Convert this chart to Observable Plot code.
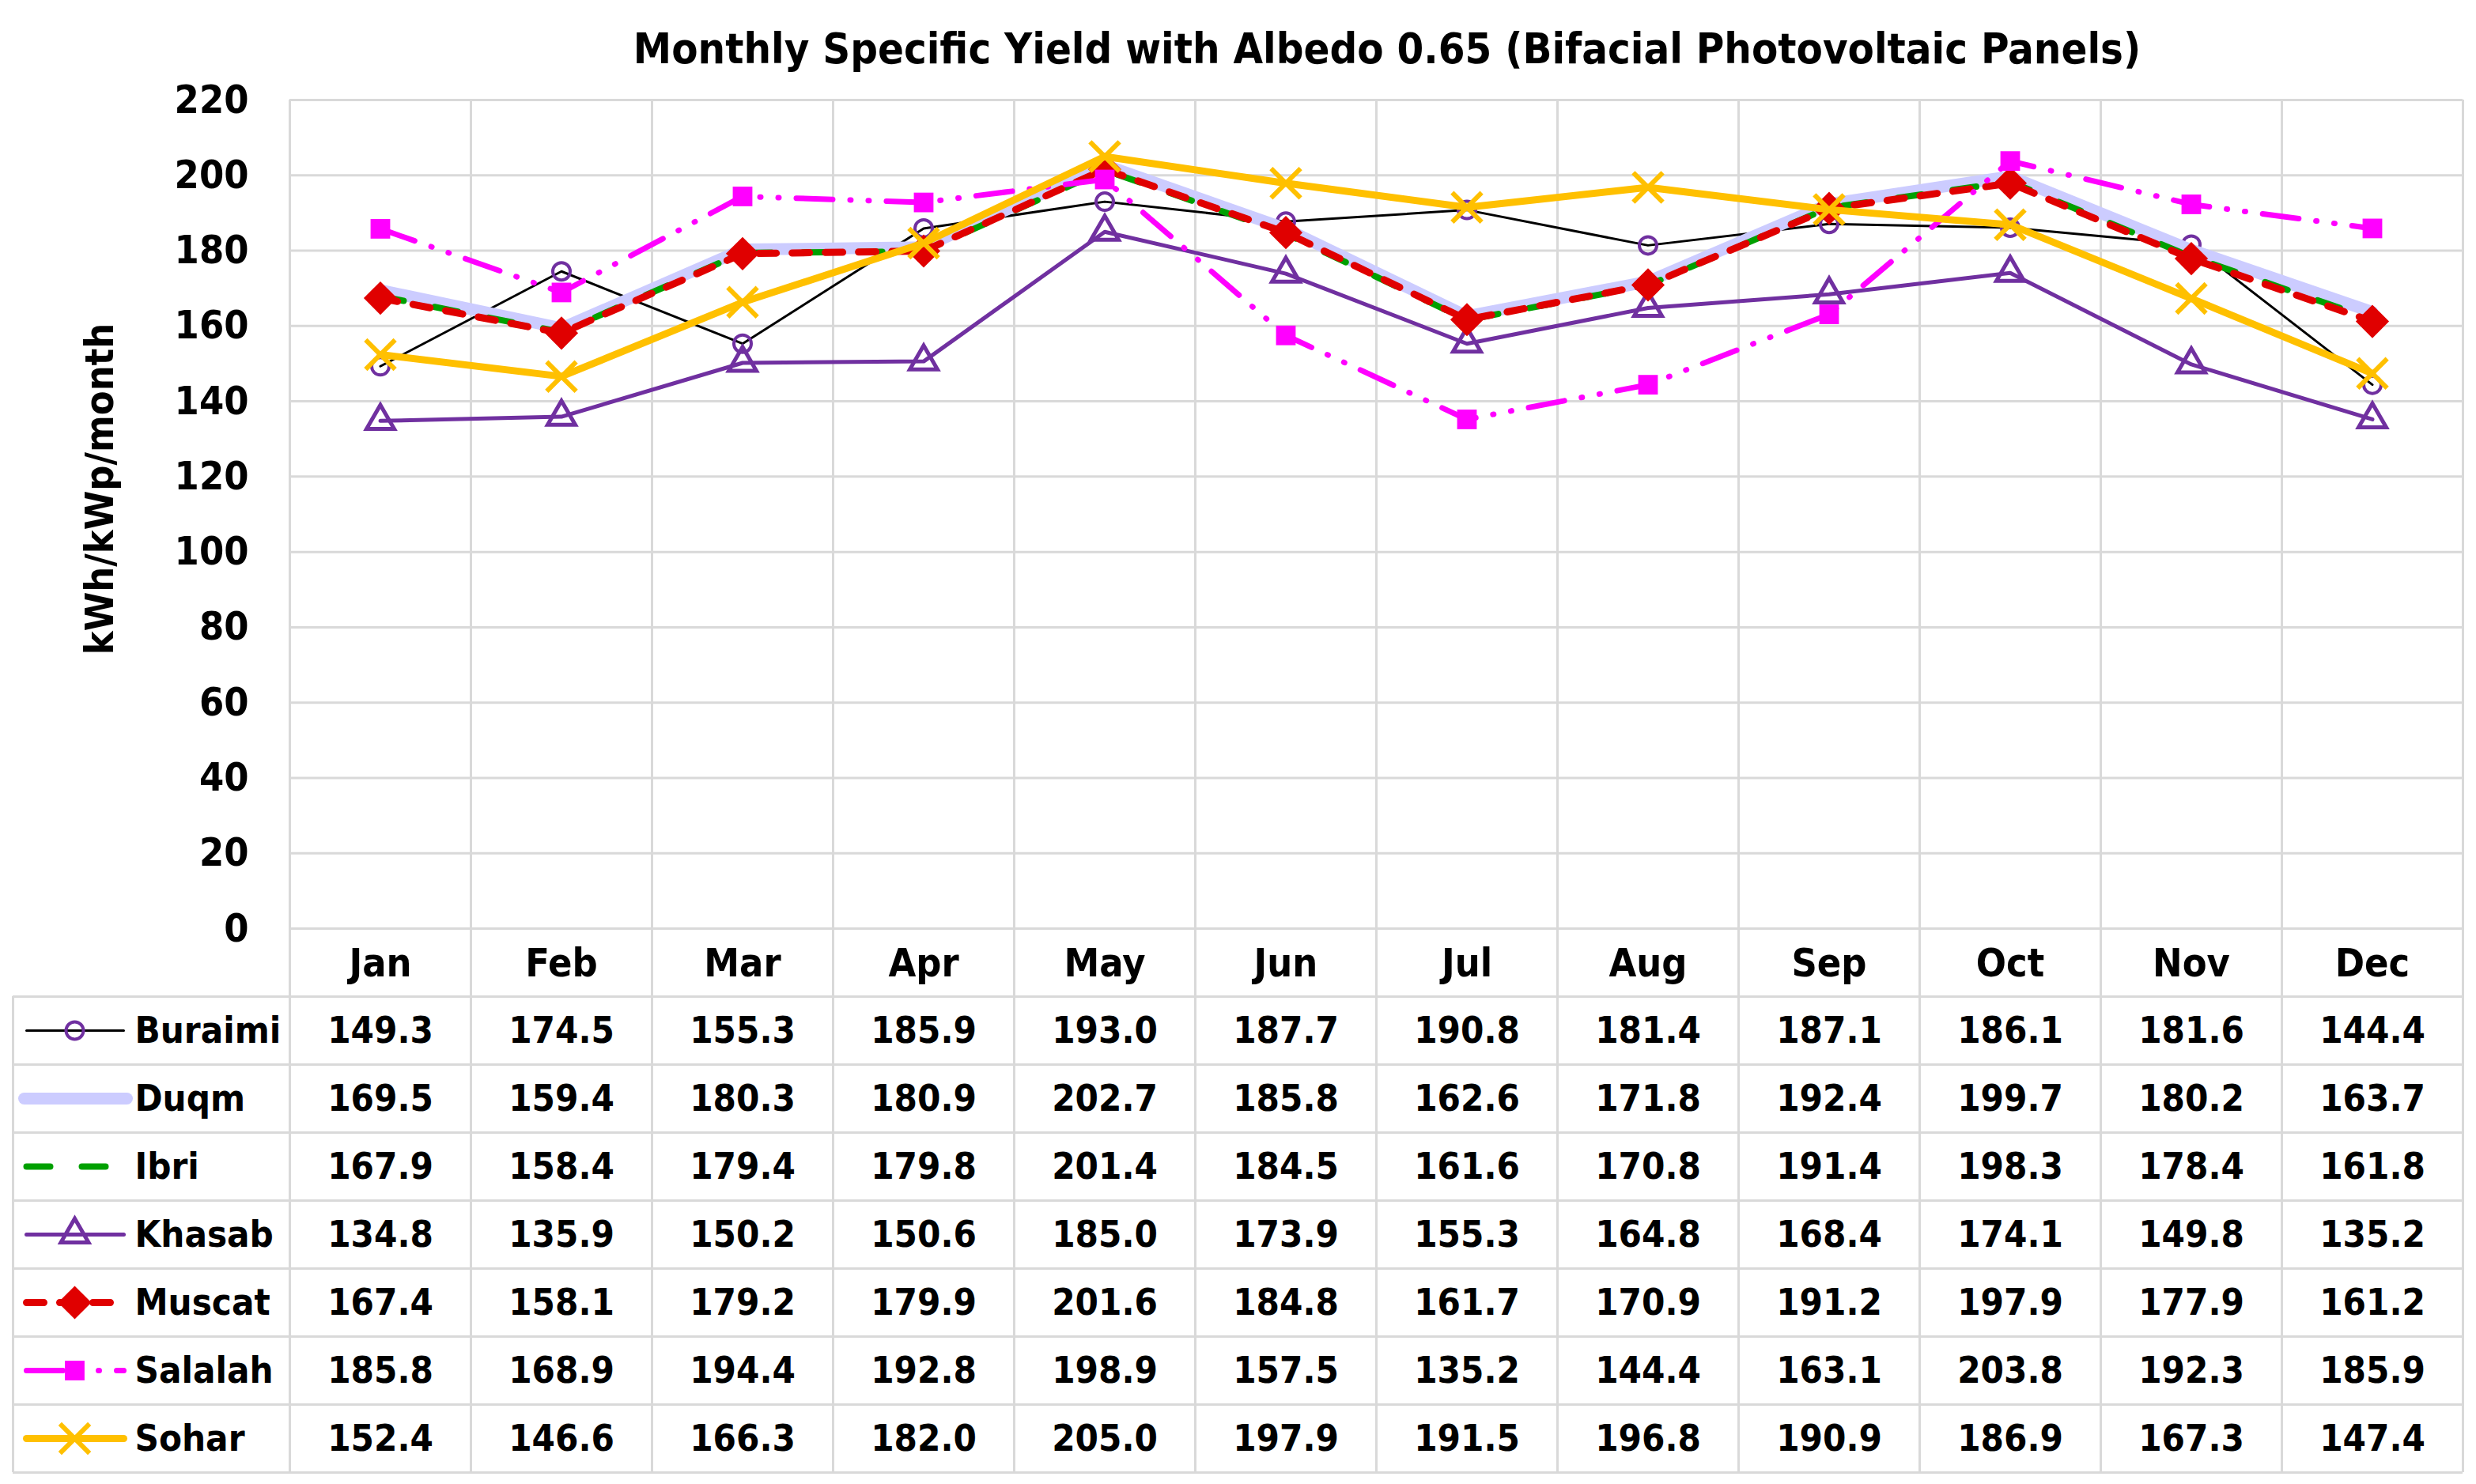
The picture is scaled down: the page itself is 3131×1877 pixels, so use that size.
<!DOCTYPE html>
<html><head><meta charset="utf-8">
<script src="https://cdn.jsdelivr.net/npm/d3@7"></script>
<script src="https://cdn.jsdelivr.net/npm/@observablehq/plot@0.6"></script>
<style>
body{margin:0;background:#fff;width:3131px;height:1877px;overflow:hidden;
 font-family:"Liberation Sans Narrow","DejaVu Sans Condensed","Open Sans",sans-serif;}
#title{box-sizing:border-box;height:100px;padding-top:30px;padding-left:394px;padding-right:17px;text-align:center;
 font-weight:bold;font-size:54px;line-height:64px;color:#000;}
svg{display:block;overflow:visible;}
</style></head><body>
<div id="title">Monthly Specific Yield with Albedo 0.65 (Bifacial Photovoltaic Panels)</div>
<div id="chart"></div>
<div id="table"></div>
<script>
const months = ["Jan","Feb","Mar","Apr","May","Jun","Jul","Aug","Sep","Oct","Nov","Dec"];
const seriesNames = ["Buraimi","Duqm","Ibri","Khasab","Muscat","Salalah","Sohar"];
const buraimi = [149.3,174.5,155.3,185.9,193.0,187.7,190.8,181.4,187.1,186.1,181.6,144.4];
const duqm    = [169.5,159.4,180.3,180.9,202.7,185.8,162.6,171.8,192.4,199.7,180.2,163.7];
const ibri    = [167.9,158.4,179.4,179.8,201.4,184.5,161.6,170.8,191.4,198.3,178.4,161.8];
const khasab  = [134.8,135.9,150.2,150.6,185.0,173.9,155.3,164.8,168.4,174.1,149.8,135.2];
const muscat  = [167.4,158.1,179.2,179.9,201.6,184.8,161.7,170.9,191.2,197.9,177.9,161.2];
const salalah = [185.8,168.9,194.4,192.8,198.9,157.5,135.2,144.4,163.1,203.8,192.3,185.9];
const sohar   = [152.4,146.6,166.3,182.0,205.0,197.9,191.5,196.8,190.9,186.9,167.3,147.4];
const yTicks = [0,20,40,60,80,100,120,140,160,180,200,220];
const yLabel = "kWh/kWp/month";

const values = [buraimi, duqm, ibri, khasab, muscat, salalah, sohar];
const rows = seriesNames.flatMap((s, k) => values[k].map((v, i) => ({series: s, k, i, month: months[i], value: v})));

const FONT = '"Liberation Sans Narrow","DejaVu Sans Condensed","Open Sans",sans-serif';
const GRID = "#d9d9d9";
const W = 3131, ML = 366, MR = 17;
const unit = (W - ML - MR) / months.length;
const px2x = p => (p - ML) / unit;

const styles = {
  Buraimi: {line: {stroke: "#000", strokeWidth: 3}, dot: {symbol: "circle", r: 11, fill: "none", stroke: "#7030a0", strokeWidth: 4}},
  Duqm:    {line: {stroke: "#ccccff", strokeWidth: 15, strokeLinecap: "round"}},
  Ibri:    {line: {stroke: "#00a000", strokeWidth: 8, strokeDasharray: "30,40", strokeLinecap: "round"}},
  Khasab:  {line: {stroke: "#7030a0", strokeWidth: 5}, dot: {symbol: "triangle", r: 13, fill: "none", stroke: "#7030a0", strokeWidth: 5}},
  Muscat:  {line: {stroke: "#e00000", strokeWidth: 9, strokeDasharray: "22,20", strokeLinecap: "round"}, dot: {symbol: "diamond2", r: 19, fill: "#e00000", stroke: "none"}},
  Salalah: {line: {stroke: "#ff00ff", strokeWidth: 7, strokeDasharray: "46,22,1,22,1,22", strokeLinecap: "round"}, dot: {symbol: "square", r: 14, fill: "#ff00ff", stroke: "none"}},
  Sohar:   {line: {stroke: "#ffc000", strokeWidth: 9}, dot: {symbol: "times", r: 17, fill: "none", stroke: "#ffc000", strokeWidth: 6}}
};

const seriesMarks = seriesNames.flatMap(s => {
  const data = rows.filter(d => d.series === s);
  const st = styles[s];
  const m = [Plot.line(data, {x: d => d.i + 0.5, y: "value", curve: "linear", strokeLinejoin: "round", ...st.line})];
  if (st.dot) m.push(Plot.dot(data, {x: d => d.i + 0.5, y: "value", ...st.dot}));
  return m;
});

const chart = Plot.plot({
  width: W, height: 1160,
  marginTop: 26, marginBottom: 86, marginLeft: ML, marginRight: MR,
  x: {domain: [0, months.length], axis: null},
  y: {domain: [0, 220], axis: null},
  style: {fontFamily: FONT, fontWeight: "bold", fontSize: "50px", color: "#000", background: "#fff", overflow: "visible"},
  marks: [
    Plot.ruleY(yTicks, {stroke: GRID, strokeWidth: 3}),
    Plot.ruleX(d3.range(months.length + 1), {stroke: GRID, strokeWidth: 3, insetBottom: -86}),
    Plot.axisY(yTicks, {tickSize: 0, tickPadding: 52, label: null, fontSize: 50, fontWeight: "bold"}),
    Plot.text([yLabel], {frameAnchor: "left", textAnchor: "middle", rotate: -90, dx: -240, dy: -32, fontSize: 50, fontWeight: "bold", fill: "#000"}),
    Plot.text(months, {x: (d, i) => i + 0.5, frameAnchor: "bottom", dy: 44, lineAnchor: "middle", fontSize: 50, fontWeight: "bold", fill: "#000"}),
    ...seriesMarks
  ]
});
document.getElementById("chart").appendChild(chart);

const legendMarks = seriesNames.flatMap((s, k) => {
  const st = styles[s];
  const cy = k + 0.5;
  const m = [Plot.link([s], {x1: px2x(s === "Duqm" ? 30 : 33), x2: px2x(s === "Duqm" ? 160 : 156), y1: cy, y2: cy, strokeLinecap: "round", ...st.line})];
  if (st.dot) m.push(Plot.dot([s], {x: px2x(94), y: cy, ...st.dot}));
  m.push(Plot.text([s], {x: px2x(170), y: cy, textAnchor: "start", lineAnchor: "middle", fontSize: 47, fontWeight: "bold", fill: "#000"}));
  return m;
});

const table = Plot.plot({
  width: W, height: 617,
  marginTop: 0, marginBottom: 15, marginLeft: ML, marginRight: MR,
  x: {domain: [0, months.length], axis: null},
  y: {domain: [seriesNames.length, 0], axis: null},
  style: {fontFamily: FONT, fontWeight: "bold", fontSize: "47px", color: "#000", background: "#fff", overflow: "visible"},
  marks: [
    Plot.ruleY(d3.range(seriesNames.length + 1), {x1: px2x(16), x2: months.length, stroke: GRID, strokeWidth: 3}),
    Plot.ruleX(d3.range(months.length + 1), {stroke: GRID, strokeWidth: 3}),
    Plot.ruleX([px2x(16)], {stroke: GRID, strokeWidth: 3}),
    Plot.text(rows, {x: d => d.i + 0.5, y: d => d.k + 0.5, text: d => d.value.toFixed(1), lineAnchor: "middle", fontSize: 47, fontWeight: "bold", fill: "#000"}),
    ...legendMarks
  ]
});
document.getElementById("table").appendChild(table);
</script>
</body></html>
